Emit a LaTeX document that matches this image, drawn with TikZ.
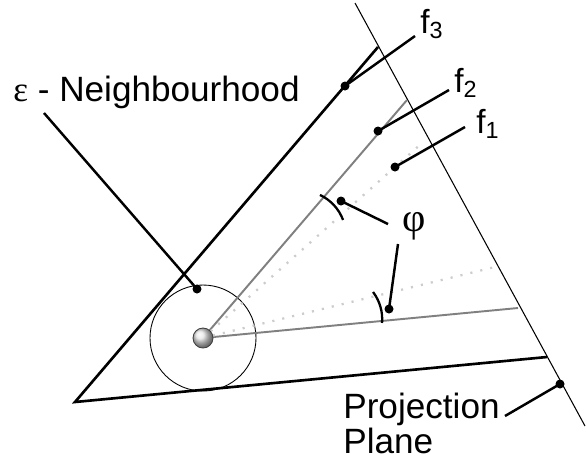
\documentclass[tikz,border=0pt]{standalone}
\usepackage{fontspec}
\setmainfont{Liberation Sans}
\newfontfamily\greekfont{Liberation Serif}
\usetikzlibrary{positioning,calc}

\begin{document}
\begin{tikzpicture}[
        x=0.02cm, y=-0.02cm,
        % Styles
        edge/.style={line width=1.5pt, color=black},
        plane/.style={line width=0.6pt, color=black},
        ray/.style={line width=1.1pt, color=black!50},
        hiddenray/.style={line width=1.3pt, color=black!20, dash pattern=on 1.2pt off 4.6pt},
        leader/.style={line width=1.4pt, color=black},
        anglemark/.style={line width=1.3pt, color=black},
        pin/.style={circle, fill=black, inner sep=0pt, minimum size=0.18cm},
        flabel/.style={font=\fontsize{19}{20}\selectfont, inner sep=0pt},
        biglabel/.style={font=\fontsize{20}{17.6}\selectfont, inner sep=0pt, align=left}
    ]
    \useasboundingbox (0,0) rectangle (587,461);

    % ================= GEOMETRY =================
    \coordinate (o) at (203,338);
    \coordinate (apex) at (75,402);
    \coordinate (edgeTop) at (378,47);
    \coordinate (edgeBot) at (547,357);
    \coordinate (planeTop) at (355,3);
    \coordinate (planeBot) at (585,426);

    % Projection plane
    \draw[plane] (planeTop) -- (planeBot);

    % Cone edges
    \draw[edge] (edgeTop) -- (apex) -- (edgeBot);

    % Neighbourhood
    \draw[line width=0.5pt] (o) circle[radius=53];

    % Rays
    \draw[ray] (o) -- (407,100);
    \draw[ray] (o) -- (518,308);
    \draw[hiddenray] (o) -- (422,143);
    \draw[hiddenray] (o) -- (495,267);

    % Angle marks
    \draw[anglemark] (300.9,235.7) ++(-64.9:45) arc[start angle=-64.9, end angle=-20.5, radius=45];
    \draw[anglemark] (337.2,319.2) ++(-37.2:45) arc[start angle=-37.2, end angle=4.8, radius=45];

    % Sphere
    \node[circle, minimum size=0.4cm, inner sep=0pt, draw=black!75, line width=0.5pt, ball color=black!10] (sph) at (o) {};

    % ================= LABELS =================
    \node[flabel, anchor=base west] (lblF3) at (420,33) {f\textsubscript{3}};
    \node[flabel, anchor=base west] (lblF2) at (454,92) {f\textsubscript{2}};
    \node[flabel, anchor=base west] (lblF1) at (476,133) {f\textsubscript{1}};
    \node[font=\fontsize{23}{24}\selectfont\greekfont, inner sep=0pt] (lblPhi) at (414,226) {φ};
    \node[biglabel, anchor=base west] (lblEps) at (13,101) {{\greekfont ε} - Neighbourhood};
    \node[biglabel, anchor=base west] (lblPlane) at (343,453) {Projection\\Plane};

    % Leader ends
    \coordinate (eF3) at (415,36);
    \coordinate (eF2) at (449,90);
    \coordinate (eF1) at (465,127);
    \coordinate (ePhiA) at (388,224);
    \coordinate (ePhiB) at (398,244);
    \coordinate (eEps) at (44,113);
    \coordinate (ePlane) at (505,416);

    % Pins and leaders
    \foreach \name/\pos/\tip in {pF3/{(345,86)}/eF3, pF2/{(378,131)}/eF2, pF1/{(395,167)}/eF1,
                                 pPhiA/{(341,201)}/ePhiA, pPhiB/{(389,309)}/ePhiB,
                                 pEps/{(197,289)}/eEps, pPlane/{(560,384)}/ePlane} {
        \node[pin] (\name) at \pos {};
        \draw[leader] (\name.center) -- (\tip);
    }

\end{tikzpicture}
\end{document}
